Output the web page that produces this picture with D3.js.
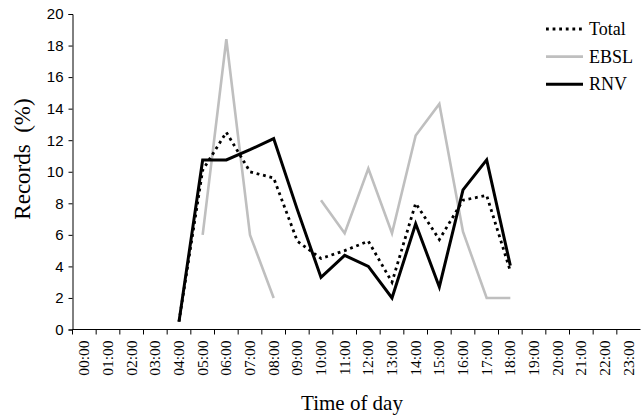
<!DOCTYPE html>
<html>
<head>
<meta charset="utf-8">
<script src="https://cdn.jsdelivr.net/npm/d3@7"></script>
<style>
  body { margin: 0; background: #fff; }
  svg { display: block; font-family: "Liberation Serif", "Times New Roman", serif; }
</style>
</head>
<body>
<svg id="chart" width="641" height="416"></svg>
<script>
// hours of the day (categories)
var hours = ["00:00","01:00","02:00","03:00","04:00","05:00","06:00","07:00",
             "08:00","09:00","10:00","11:00","12:00","13:00","14:00","15:00",
             "16:00","17:00","18:00","19:00","20:00","21:00","22:00","23:00"];

// records (%) per hour, null = no point
var total = [null, null, null, null, 0.5, 10.1, 12.5, 10.0, 9.6, 5.6, 4.5, 5.0,
             5.6, 3.0, 8.0, 5.7, 8.2, 8.5, 3.7, null, null, null, null, null];
var ebsl  = [null, null, null, null, null, 6.0, 18.4, 6.0, 2.0, null, 8.2, 6.1,
             10.2, 6.1, 12.3, 14.3, 6.2, 2.0, 2.0, null, null, null, null, null];
var rnv   = [null, null, null, null, 0.5, 10.75, 10.75, 11.4, 12.1, 7.6, 3.3, 4.7,
             4.0, 2.0, 6.7, 2.7, 8.85, 10.75, 4.05, null, null, null, null, null];

var yTicks = [0, 2, 4, 6, 8, 10, 12, 14, 16, 18, 20];

var svg = d3.select("#chart");

//Scales
var x = d3.scaleBand().domain(hours).range([72.5, 640.5]);
var y = d3.scaleLinear().domain([0, 20]).range([329.5, 14]);

//Y axis
var yAxis = svg.append("g")
  .attr("transform", "translate(" + 72.5 + ",0)")
  .call(d3.axisLeft(y).tickValues(yTicks).tickSize(4).tickPadding(5));
yAxis.selectAll("text").style("font-size", "15px").attr("fill", "#000");
yAxis.selectAll("path, line").attr("stroke", "#000");

//X axis with ticks on band edges
var xAxis = svg.append("g")
  .attr("transform", "translate(0," + 329.5 + ")");
xAxis.append("line")
  .attr("x1", 72.5).attr("x2", 640.5)
  .attr("y1", 0).attr("y2", 0)
  .attr("stroke", "#000");
xAxis.selectAll(".tk")
  .data(hours)
  .enter().append("line")
  .attr("class", "tk")
  .attr("x1", function(d){ return x(d); })
  .attr("x2", function(d){ return x(d); })
  .attr("y1", 0).attr("y2", 5)
  .attr("stroke", "#000");
xAxis.selectAll(".lbl")
  .data(hours)
  .enter().append("text")
  .attr("class", "lbl")
  .attr("transform", function(d){
    return "translate(" + (x(d) + x.bandwidth()/2 + 5) + "," + 11 + ") rotate(-90)";
  })
  .attr("text-anchor", "end")
  .style("font-size", "15.5px")
  .text(function(d){ return d; });

//Lines
var line = d3.line()
  .defined(function(d){ return d != null; })
  .x(function(d, i){ return x(hours[i]) + x.bandwidth()/2; })
  .y(function(d){ return y(d); });

svg.append("path").datum(ebsl)
  .attr("d", line)
  .attr("fill", "none")
  .attr("stroke", "#bfbfbf")
  .attr("stroke-width", 2.6);

svg.append("path").datum(rnv)
  .attr("d", line)
  .attr("fill", "none")
  .attr("stroke", "#000")
  .attr("stroke-width", 3);

svg.append("path").datum(total)
  .attr("d", line)
  .attr("fill", "none")
  .attr("stroke", "#000")
  .attr("stroke-width", 2.8)
  .attr("stroke-dasharray", "2.8,3.8");

//Legend
var legend = [
  {name: "Total", color: "#000", width: 2.8, dash: "2.8,3.8"},
  {name: "EBSL", color: "#bfbfbf", width: 2.6, dash: null},
  {name: "RNV", color: "#000", width: 3, dash: null}
];
var lg = svg.selectAll(".legend")
  .data(legend)
  .enter().append("g")
  .attr("transform", function(d, i){ return "translate(546," + (29 + i*27.6) + ")"; });
lg.append("line")
  .attr("x1", 0).attr("x2", 37)
  .attr("y1", 0).attr("y2", 0)
  .attr("stroke", function(d){ return d.color; })
  .attr("stroke-width", function(d){ return d.width; })
  .attr("stroke-dasharray", function(d){ return d.dash; });
lg.append("text")
  .attr("x", 43).attr("y", 6)
  .style("font-size", "18px")
  .text(function(d){ return d.name; });

//Axis titles
svg.append("text")
  .attr("x", 352).attr("y", 410)
  .attr("text-anchor", "middle")
  .style("font-size", "21px")
  .text("Time of day");

svg.append("text")
  .attr("transform", "translate(30,159) rotate(-90)")
  .attr("text-anchor", "middle")
  .style("font-size", "23px")
  .style("white-space", "pre")
  .text("Records  (%)");
</script>
</body>
</html>
